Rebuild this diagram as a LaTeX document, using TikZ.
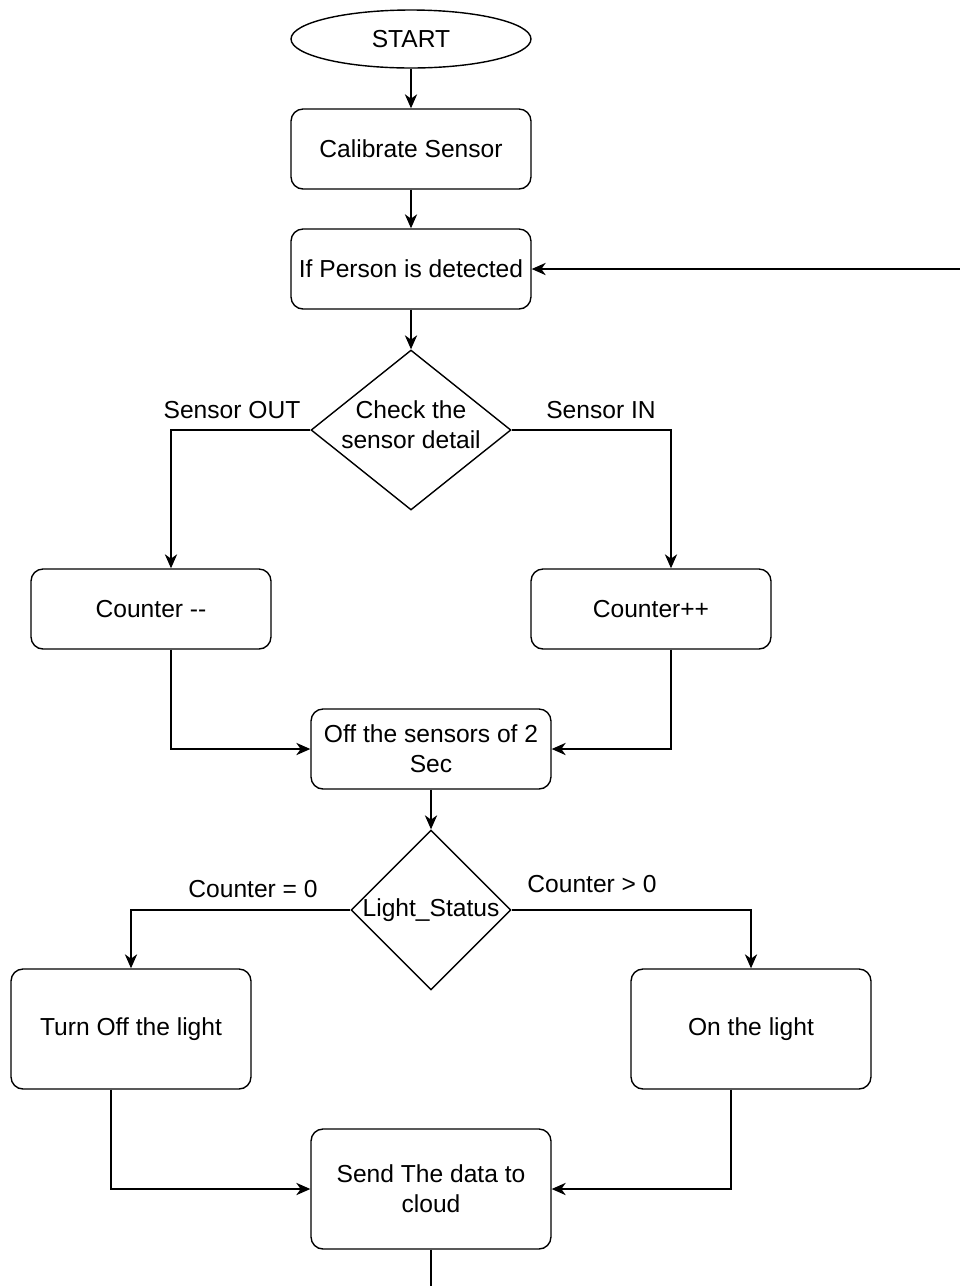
\documentclass[tikz,border=0pt]{standalone}
\usepackage{fontspec}
\setmainfont{Liberation Sans}
\usepackage{xcolor}
\usepackage{tikz}
\usetikzlibrary{arrows.meta,shapes.geometric}
\definecolor{ink}{HTML}{000000}
\tikzset{
  flowBox/.style={draw=ink, line width=0.8pt, rounded corners=0.24cm, minimum width=4.8cm, minimum height=1.6cm, align=center, font=\fontsize{14}{17}\selectfont},
  tallBox/.style={flowBox, minimum height=2.4cm},
  startOval/.style={draw=ink, line width=0.8pt, ellipse, minimum width=4.8cm, minimum height=1.16cm, font=\fontsize{14}{17}\selectfont},
  decisionBox/.style={draw=ink, line width=0.8pt, diamond, inner sep=0pt},
  flowText/.style={align=center, font=\fontsize{14}{17}\selectfont},
  flowArrow/.style={draw=ink, line width=0.8pt, -{Stealth[length=8pt,width=7pt,inset=2.5pt]}},
  flowLine/.style={draw=ink, line width=0.8pt}
}

\begin{document}
\begin{tikzpicture}[x=0.02cm, y=-0.02cm]
  \useasboundingbox (0,0) rectangle (960,1286);

  \node[startOval] (start) at (411,39) {START};
  \node[flowBox] (calib) at (411,149) {Calibrate Sensor};
  \node[flowBox] (detect) at (411,269) {If Person is detected};

  \node[decisionBox, minimum width=4cm, minimum height=3.2cm] (check) at (411,430) {};
  \node[flowText] at (411,425) {Check the\\sensor detail};

  \node[flowBox] (cntDown) at (151,609) {Counter -{}-};
  \node[flowBox] (cntUp) at (651,609) {Counter++};
  \node[flowBox] (offSensor) at (431,749) {Off the sensors of 2\\Sec};

  \node[decisionBox, minimum width=3.2cm, minimum height=3.2cm] (status) at (431,910) {};
  \node[flowText] at (status) {Light\_Status};

  \node[tallBox] (lightOff) at (131,1029) {Turn Off the light};
  \node[tallBox] (lightOn) at (751,1029) {On the light};
  \node[tallBox] (sendData) at (431,1189) {Send The data to\\cloud};

  \coordinate (loopIn) at (960,269);
  \coordinate (endOut) at (431,1286);

  \draw[flowArrow] (start) -- (calib);
  \draw[flowArrow] (calib) -- (detect);
  \draw[flowArrow] (loopIn) -- (detect.east);
  \draw[flowArrow] (detect) -- (check.north);

  \draw[flowArrow] (check.west) -| ([xshift=0.4cm]cntDown.north);
  \draw[flowArrow] (check.east) -| ([xshift=0.4cm]cntUp.north);
  \node[flowText] at (232,410) {Sensor OUT};
  \node[flowText] at (601,410) {Sensor IN};

  \draw[flowArrow] ([xshift=0.4cm]cntDown.south) |- (offSensor.west);
  \draw[flowArrow] ([xshift=0.4cm]cntUp.south) |- (offSensor.east);
  \draw[flowArrow] (offSensor) -- (status.north);

  \draw[flowArrow] (status.west) -| (lightOff.north);
  \draw[flowArrow] (status.east) -| (lightOn.north);
  \node[flowText] at (253,889) {Counter = 0};
  \node[flowText] at (592,884) {Counter > 0};

  \draw[flowArrow] ([xshift=-0.4cm]lightOff.south) |- (sendData.west);
  \draw[flowArrow] ([xshift=-0.4cm]lightOn.south) |- (sendData.east);
  \draw[flowLine] (sendData) -- (endOut);
\end{tikzpicture}
\end{document}
